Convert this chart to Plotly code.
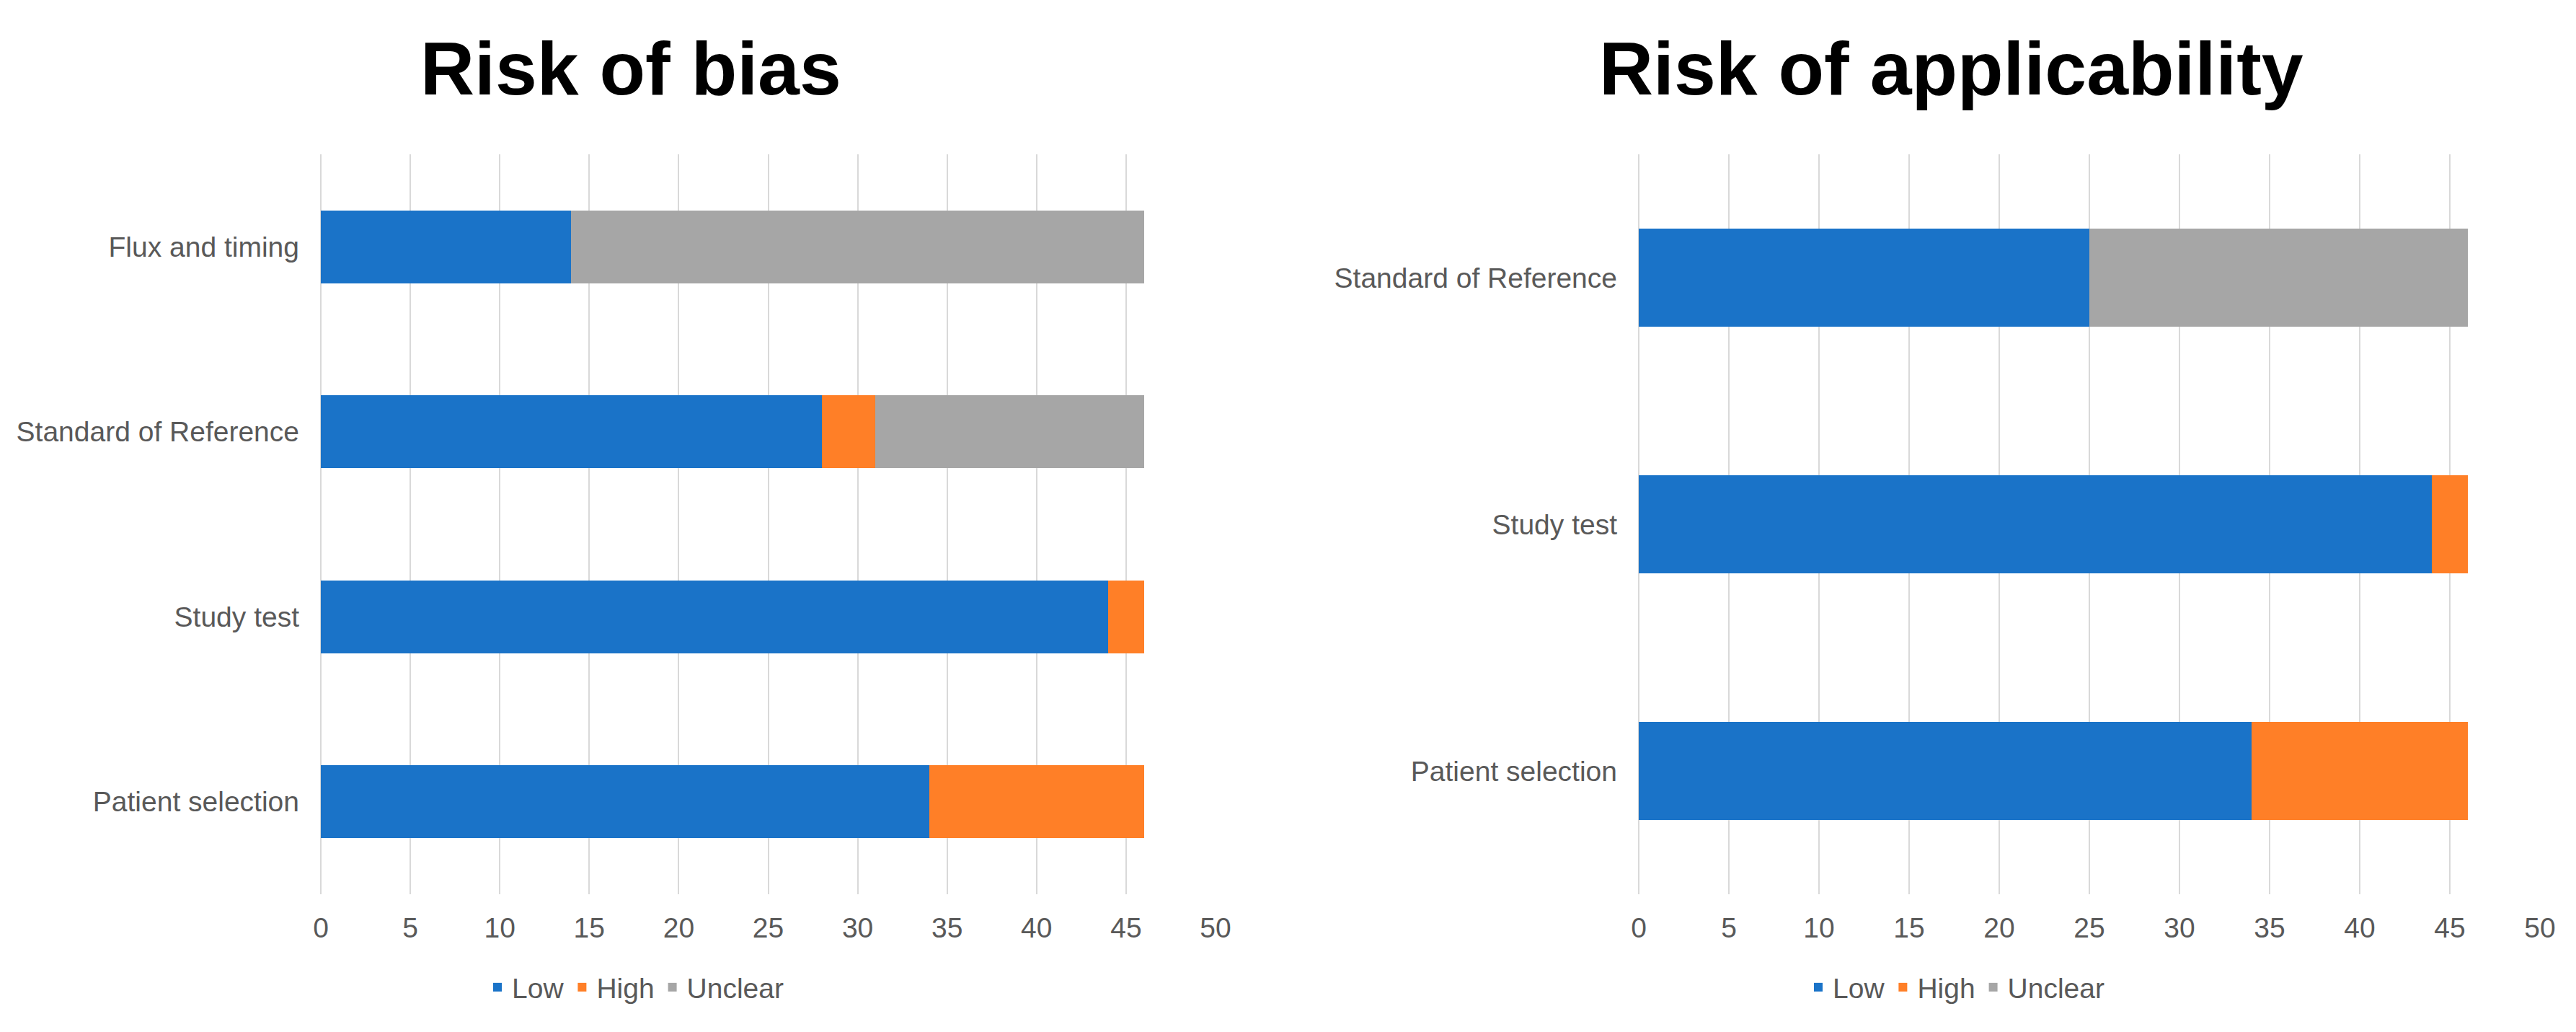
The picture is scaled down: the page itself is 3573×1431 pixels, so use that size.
import plotly.graph_objects as go

# ---- data ----
bias_categories = ["Patient selection", "Study test", "Standard of Reference", "Flux and timing"]
bias_low = [34, 44, 28, 14]
bias_high = [12, 2, 3, 0]
bias_unclear = [0, 0, 15, 32]

app_categories = ["Patient selection", "Study test", "Standard of Reference"]
app_low = [34, 44, 25]
app_high = [12, 2, 0]
app_unclear = [0, 0, 21]

series_names = ["Low", "High", "Unclear"]
x_ticks = [0, 5, 10, 15, 20, 25, 30, 35, 40, 45, 50]
titles = ["Risk of bias", "Risk of applicability"]

# ---- style ----
W, H = 3573, 1431
colors = {"Low": "#1A73C8", "High": "#FF7F27", "Unclear": "#A6A6A6"}
FONT = "Liberation Sans, Arial, sans-serif"
TXT = "#595959"
GRID = "#D9D9D9"

fig = go.Figure()

def add_series(cats, low, high, unclear, xaxis, yaxis, legend):
    for name, vals in zip(series_names, [low, high, unclear]):
        fig.add_trace(go.Bar(
            y=cats, x=vals, name=name, orientation="h",
            marker=dict(color=colors[name], line=dict(width=0)),
            xaxis=xaxis, yaxis=yaxis, legend=legend,
            hoverinfo="x+y+name",
        ))

add_series(bias_categories, bias_low, bias_high, bias_unclear, "x", "y", "legend")
add_series(app_categories, app_low, app_high, app_unclear, "x2", "y2", "legend2")

def px_x(p):
    return p / W

def px_y(p):
    return (H - p) / H

xaxis_common = dict(
    range=[0, 50], tickvals=x_ticks, showgrid=True, gridcolor=GRID, gridwidth=2,
    zeroline=True, zerolinecolor=GRID, zerolinewidth=2, showline=False,
    ticks="", tickfont=dict(family=FONT, size=39, color=TXT),
    ticklabelstandoff=20, automargin=False, fixedrange=True,
)
yaxis_common = dict(
    showgrid=False, zeroline=False, showline=False, ticks="",
    tickfont=dict(family=FONT, size=39, color=TXT),
    ticklabelstandoff=29, automargin=False, type="category", fixedrange=True,
)

legend_common = dict(
    orientation="h", xanchor="center", yanchor="middle",
    font=dict(family=FONT, size=39, color=TXT), bgcolor="rgba(0,0,0,0)",
    itemwidth=30, traceorder="normal",
)

fig.update_layout(
    width=W, height=H,
    margin=dict(l=0, r=0, t=0, b=0),
    paper_bgcolor="white", plot_bgcolor="white",
    barmode="stack", bargap=0.605,
    xaxis=dict(domain=[px_x(445), px_x(1686)], anchor="y", **xaxis_common),
    yaxis=dict(domain=[px_y(1240), px_y(214)], anchor="x", **yaxis_common),
    xaxis2=dict(domain=[px_x(2273), px_x(3523)], anchor="y2", **xaxis_common),
    yaxis2=dict(domain=[px_y(1240), px_y(214)], anchor="x2", **yaxis_common),
    legend=dict(x=px_x(881), y=px_y(1369), **legend_common),
    legend2=dict(x=px_x(2713), y=px_y(1369), **legend_common),
    showlegend=True,
    annotations=[
        dict(text=titles[0], x=px_x(875), y=px_y(95), xref="paper", yref="paper",
             xanchor="center", yanchor="middle", showarrow=False,
             font=dict(family=FONT, size=104, color="black", weight="bold")),
        dict(text=titles[1], x=px_x(2706), y=px_y(95), xref="paper", yref="paper",
             xanchor="center", yanchor="middle", showarrow=False,
             font=dict(family=FONT, size=104, color="black", weight="bold")),
    ],
)

fig.write_html(
    "out.html",
    config={"displayModeBar": False},
    post_script="document.body.style.margin='0';document.body.style.overflow='hidden';",
)
